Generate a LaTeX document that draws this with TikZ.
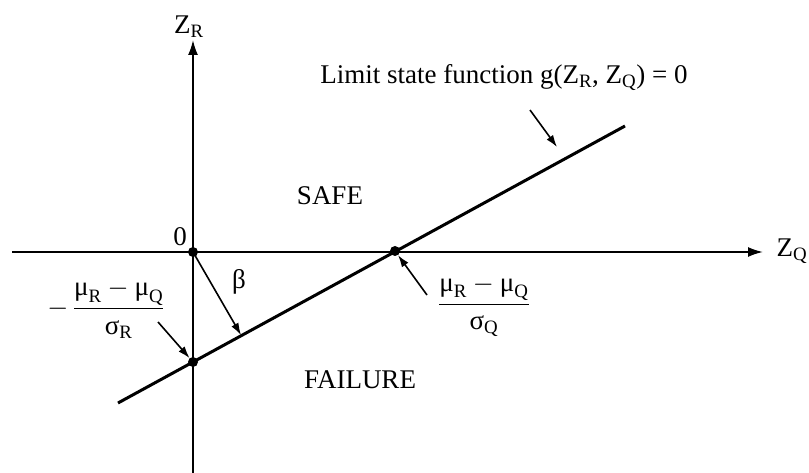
\documentclass[tikz,border=0pt]{standalone}
\usepackage{fix-cm}
\usepackage{amsmath}
\usepackage{fontspec}
\setmainfont{Liberation Serif}
\usetikzlibrary{arrows.meta,calc}
\newcommand{\gm}{\text{μ}}
\newcommand{\gs}{\text{σ}}
\newcommand{\sR}{_{\text{R}}}
\newcommand{\sQ}{_{\text{Q}}}
\begin{document}
\begin{tikzpicture}[x=1pt,y=-1pt,
  axis/.style={line width=1.8pt,-{Latex[length=15pt,width=10pt]}},
  lsf/.style={line width=3pt},
  pointer/.style={line width=1.6pt,-{Latex[length=12pt,width=8pt]}},
  dotpt/.style={circle,fill=black,inner sep=0pt,minimum size=10pt},
  lbl/.style={font=\fontsize{27}{32}\selectfont,inner sep=1pt}]
\useasboundingbox (0,0) rectangle (809,473);
% axes
\coordinate (xl) at (12,252);
\coordinate (xr) at (763,252);
\coordinate (yb) at (193,473);
\coordinate (yt) at (193,40);
\draw[axis] (xl) -- (xr);
\draw[axis] (yb) -- (yt);
% limit state line
\coordinate (la) at (118,403);
\coordinate (lb) at (625,126);
\draw[lsf] (la) -- (lb);
% points
\node[dotpt] (o) at (193,252) {};
\node[dotpt] (q) at (395,251) {};
\node[dotpt] (r) at (193,362) {};
\coordinate (foot) at (241,335);
% labels
\node[lbl] (zr) at (189,27) {Z$\sR$};
\node[lbl] (zq) at (792,251) {Z$\sQ$};
\node[lbl] (zero) at (180,237) {0};
\node[lbl] (beta) at (239,282) {β};
\node[lbl] (safe) at (330,196) {SAFE};
\node[lbl] (fail) at (360,380) {FAILURE};
\node[lbl] (lim) at (504,78) {Limit state function g(Z$\sR$, Z$\sQ$) = 0};
\node[lbl] (fr) at (106,309) {$-\,\dfrac{\gm\sR-\gm\sQ}{\gs\sR}$};
\node[lbl] (fq) at (484,306) {$\dfrac{\gm\sR-\gm\sQ}{\gs\sQ}$};
% pointers
\coordinate (p1s) at (530,110);
\coordinate (p1e) at (557,147);
\draw[pointer] (p1s) -- (p1e);
\coordinate (p2s) at (158,322);
\draw[pointer] (p2s) -- (r);
\coordinate (p3s) at (427,295);
\draw[pointer] (p3s) -- (q);
\draw[pointer] (o.center) -- (foot);
\end{tikzpicture}
\end{document}
